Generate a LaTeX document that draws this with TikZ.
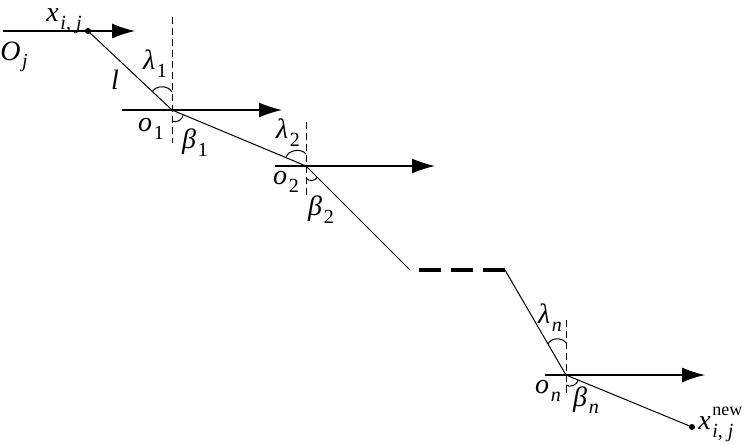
\documentclass[tikz,border=0pt]{standalone}
\usepackage{amssymb,amsmath}
\usepackage{fontspec}
\setmainfont{Liberation Serif}
\usepackage{tikz}
\usetikzlibrary{arrows.meta}
\tikzset{font={\fontsize{14pt}{16}\selectfont}}
\newcommand{\sublab}[2]{\textit{#1}\kern0.8pt\raisebox{-0.6ex}{\fontsize{10pt}{11}\selectfont #2}}

\begin{document}
\begin{tikzpicture}[x=0.5pt,y=0.5pt,
thin line/.style={line width=0.5pt},
axis arrow/.style={line width=0.6pt,-{Latex[length=11.5pt,width=7.5pt]}},
normal/.style={line width=0.5pt,dash pattern=on 3.5pt off 2pt},
gap line/.style={line width=2pt,dash pattern=on 11pt off 5pt},
angle mark/.style={line width=0.5pt}
]
\useasboundingbox (0,0) rectangle (746,445);
% points of the path
\coordinate (Ojs) at (3,414);
\coordinate (Oje) at (135,414);
\coordinate (xs) at (88,414);
\coordinate (o1) at (172,335);
\coordinate (o2) at (306,279);
\coordinate (brka) at (410,175);
\coordinate (brkb) at (419,175);
\coordinate (brkc) at (505,175);
\coordinate (on) at (566,70);
\coordinate (xnew) at (692,18);

\draw[axis arrow] (Ojs) -- (Oje);
\draw[thin line] (xs) -- (o1) -- (o2) -- (brka);
\draw[gap line] (brkb) -- (brkc);
\draw[thin line] (brkc) -- (on) -- (xnew);
\fill (xs) circle (3);
\fill (xnew) circle (3);

% normals and axes
\draw[normal] (o1) ++(0,93) -- ++(0,-126);
\draw[normal] (o2) ++(0,44) -- ++(0,-75);
\draw[normal] (on) ++(0,55) -- ++(0,-77);
\draw[axis arrow] (o1) ++(-50,0) -- ++(160,0);
\draw[axis arrow] (o2) ++(-31,0) -- ++(160,0);
\draw[axis arrow] (on) ++(-21,0) -- ++(160,0);

% angles
\draw[angle mark] ([shift={(137:27)}]o1) to[bend left=60] ([shift={(90:18)}]o1);
\draw[angle mark] ([shift={(-90:11)}]o1) to[bend right=60] ([shift={(-23:12)}]o1);
\draw[angle mark] ([shift={(157:22)}]o2) to[bend left=60] ([shift={(90:12)}]o2);
\draw[angle mark] ([shift={(-90:12)}]o2) to[bend right=60] ([shift={(-45:16)}]o2);
\draw[angle mark] ([shift={(120:36)}]on) to[bend left=60] ([shift={(90:32)}]on);
\draw[angle mark] ([shift={(-90:10)}]on) to[bend right=60] ([shift={(-22:13)}]on);

% labels
\node[inner sep=1pt] (xij) at (64,424) {\sublab{x}{\textit{i}, \textit{j}}};
\node (Oj) at (14,388) {\sublab{O}{\textit{j}}};
\node (l) at (115,365) {\textit{l}};
\node (lam1) at (155,381) {\sublab{λ}{1}};
\node (lo1) at (151,316) {\sublab{o}{1}};
\node (bet1) at (195,302) {\sublab{β}{1}};
\node (lam2) at (288,312) {\sublab{λ}{2}};
\node (lo2) at (286,263) {\sublab{o}{2}};
\node (bet2) at (321,235) {\sublab{β}{2}};
\node (lamn) at (550,127) {\sublab{λ}{\textit{n}}};
\node (lon) at (548,54) {\sublab{o}{\textit{n}}};
\node (betn) at (586,45) {\sublab{β}{\textit{n}}};
\node[anchor=west,inner sep=0pt] (xijnew) at (698,21) {\textit{x}\kern0.8pt\rlap{\raisebox{1.1ex}{\fontsize{9pt}{10}\selectfont new}}\raisebox{-0.6ex}{\fontsize{10pt}{11}\selectfont\textit{i}, \textit{j}}};

\end{tikzpicture}
\end{document}
